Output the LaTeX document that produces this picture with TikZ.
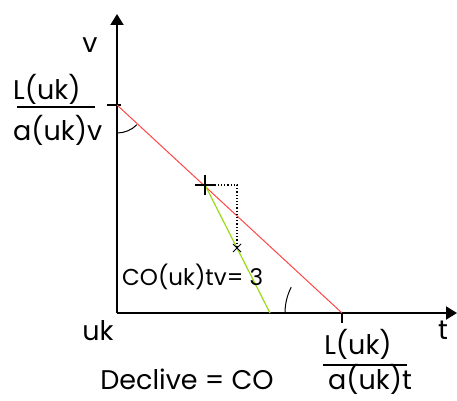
\documentclass[tikz,border=0pt]{standalone}
\usepackage{fontspec}
\setmainfont{Poppins}
\usepackage{xcolor}
\usetikzlibrary{arrows.meta}
\definecolor{slopered}{RGB}{255,70,70}
\definecolor{slopegreen}{RGB}{150,220,20}

\begin{document}
\begin{tikzpicture}[
  x=1pt, y=1pt,
  font=\fontsize{27}{29}\selectfont,
  axis/.style={line width=2pt, -{Triangle[length=11pt, width=13pt]}},
  tickline/.style={line width=1.5pt},
  anglemark/.style={line width=1pt},
  lbl/.style={inner sep=0pt},
]
\useasboundingbox (0,0) rectangle (457,400);
% axes
\coordinate (O) at (117,87);
\coordinate (ytop) at (117,386);
\coordinate (xend) at (457,87);
\draw[axis] (O) -- (ytop);
\draw[axis] (O) -- (xend);
% intercepts and points
\coordinate (A) at (117,295);
\coordinate (B) at (342,87);
\coordinate (P) at (205,215);
\coordinate (G) at (270,87);
\coordinate (Q) at (237,215);
\coordinate (R) at (237,152);
\draw[tickline] ([xshift=4pt]A) -- ++(-14,0);
\draw[tickline] (B) -- ++(0,-10);
% lines
\draw[slopered, line width=1pt] (A) -- (B);
\draw[slopegreen, line width=1.2pt] (P) -- (G);
\draw[dotted, line width=1.2pt] (P) -- (Q) -- (R);
% marks
\draw[tickline] ([xshift=-10pt]P) -- ([xshift=10pt]P);
\draw[tickline] ([yshift=-10pt]P) -- ([yshift=10pt]P);
\draw[anglemark] ([shift={(-4,-4)}]R) -- ([shift={(4,4)}]R);
\draw[anglemark] ([shift={(-4,4)}]R) -- ([shift={(4,-4)}]R);
\draw[anglemark] ([yshift=-28pt]A) arc[start angle=-90, end angle=-45, radius=28pt];
\draw[anglemark] ([xshift=-57pt]B) arc[start angle=180, end angle=153, radius=57pt];
% labels
\node[lbl] (vlab) at (90,355) {v};
\node[lbl, anchor=west] (num1) at (13,311) {L(uk)};
\draw[tickline] (17,293) -- (95,293);
\node[lbl, anchor=west] (den1) at (13,270) {a(uk)v};
\node[lbl] (uklab) at (98,69) {uk};
\node[lbl] (tlab) at (443,70) {t};
\node[lbl] (num2) at (358,56) {L(uk)};
\draw[tickline] (323,35) -- (407,35);
\node[lbl] (den2) at (370,21) {a(uk)t};
\node[lbl] (decl) at (187,21) {Declive = CO};
\node[lbl, anchor=west, font=\fontsize{23}{25}\selectfont] (cotv) at (122,123) {CO(uk)tv= 3};
\end{tikzpicture}
\end{document}
